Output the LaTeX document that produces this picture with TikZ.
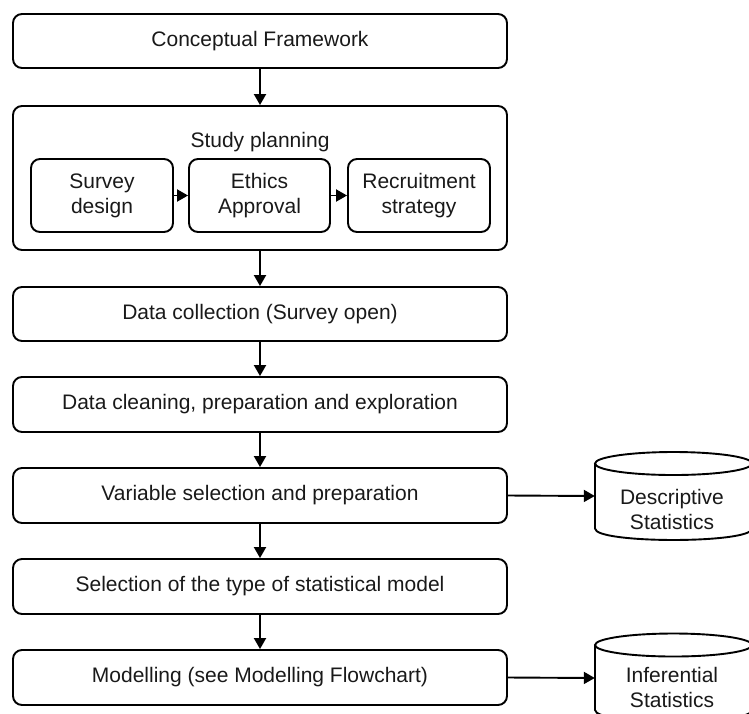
\documentclass[tikz,border=0pt]{standalone}
\usepackage{fontspec}
\setmainfont{Liberation Sans}
\usetikzlibrary{arrows.meta}
\begin{document}
\begin{tikzpicture}[x=1pt,y=-1pt,
  every node/.style={font=\fontsize{21}{25}\selectfont, text=black!90},
  stage/.style={draw, line width=1.9pt, rounded corners=9pt, minimum width=494pt, minimum height=55pt, inner sep=0pt},
  substage/.style={draw, line width=1.9pt, rounded corners=9pt, minimum width=142pt, minimum height=73pt, inner sep=0pt, align=center},
  group/.style={draw, line width=1.9pt, rounded corners=9pt, minimum width=494pt, minimum height=144pt, inner sep=0pt},
  store/.style={minimum width=157pt, minimum height=60pt, inner sep=0pt},
  storelabel/.style={align=center, inner sep=0pt},
  flow/.style={line width=1.9pt, -{Triangle[length=11pt,width=12pt]}},
  drum/.style={line width=1.9pt, fill=white}]
\useasboundingbox (0,0) rectangle (749,713);
\clip (0,0) rectangle (749,713);

% main pipeline
\node[stage, minimum height=54pt] (concept) at (260,41) {Conceptual Framework};
\node[group] (plan) at (260,178) {};
\node[inner sep=0pt] (planTitle) at (260,142) {Study planning};
\node[substage] (survey) at (102,195.5) {Survey\\design};
\node[substage, minimum width=141pt] (ethics) at (259.5,195.5) {Ethics\\Approval};
\node[substage] (recruit) at (419,195.5) {Recruitment\\strategy};
\node[stage, minimum height=54pt] (collect) at (260,314) {Data collection (Survey open)};
\node[stage] (clean) at (260,404.5) {Data cleaning, preparation and exploration};
\node[stage] (variable) at (260,495.5) {Variable selection and preparation};
\node[stage] (select) at (260,586.5) {Selection of the type of statistical model};
\node[stage] (model) at (260,677.5) {Modelling (see Modelling Flowchart)};

% data stores (cylinders)
\draw[drum] (595,463.5) -- (595,528.5)
  .. controls (595,543.8) and (752,543.8) .. (752,528.5) -- (752,463.5);
\draw[drum] (673.5,463.5) ellipse [x radius=78.5pt, y radius=11.5pt];
\node[store] (desc) at (673.5,496) {};
\node[storelabel] (descLabel) at (672,509.5) {Descriptive\\Statistics};

\draw[drum] (595,645) -- (595,710)
  .. controls (595,725.3) and (752,725.3) .. (752,710) -- (752,645);
\draw[drum] (673.5,645) ellipse [x radius=78.5pt, y radius=11.5pt];
\node[store] (infer) at (673.5,678) {};
\node[storelabel] (inferLabel) at (672,687.5) {Inferential\\Statistics};

% connectors
\draw[flow] (concept) -- (plan);
\draw[flow] (survey) -- (ethics);
\draw[flow] (ethics) -- (recruit);
\draw[flow] (plan) -- (collect);
\draw[flow] (collect) -- (clean);
\draw[flow] (clean) -- (variable);
\draw[flow] (variable) -- (select);
\draw[flow] (select) -- (model);
\draw[flow] (variable.east) -- (desc.west);
\draw[flow] (model.east) -- (infer.west);
\end{tikzpicture}
\end{document}
